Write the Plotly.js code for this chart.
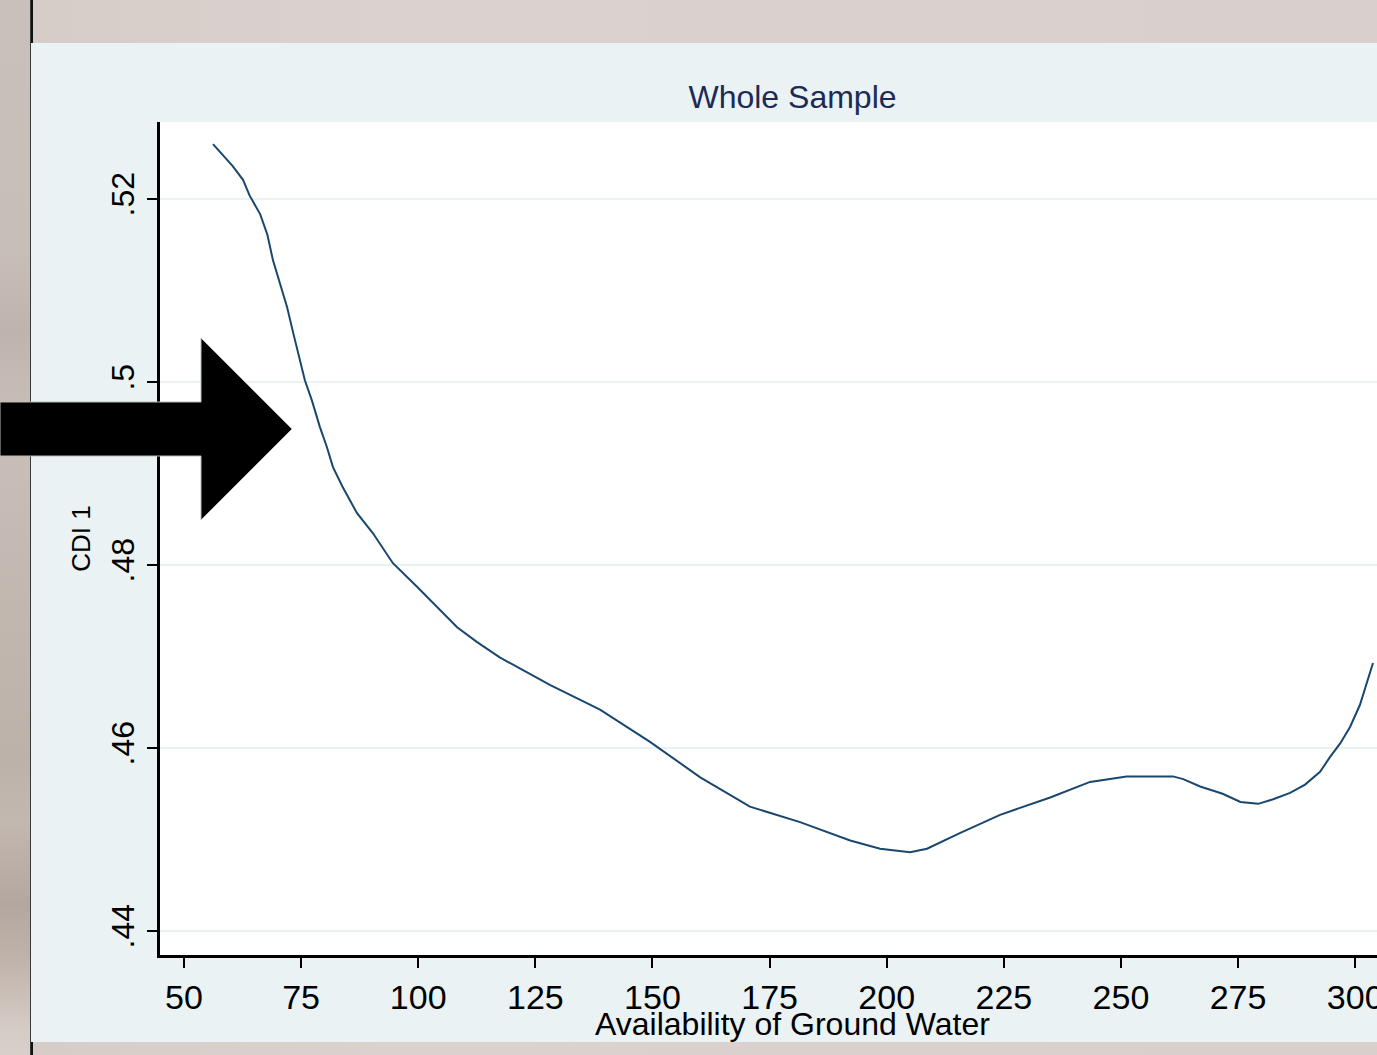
<!DOCTYPE html>
<html>
<head>
<meta charset="utf-8">
<script src="https://cdn.plot.ly/plotly-3.0.1.min.js"></script>
<style>
  html, body { margin:0; padding:0; width:1377px; height:1055px; overflow:hidden; }
  body {
    background: linear-gradient(90deg, #d6ccc7 0px, #dbd2cf 400px, #d9d0cd 1377px);
    position: relative;
  }
  #leftstrip {
    position:absolute; left:0; top:0; width:30px; height:1055px;
    background: linear-gradient(180deg, #cac0bb 0px, #c8beb8 250px, #bfb4ad 330px, #c9bfb9 420px,
      #c4b9b2 560px, #bdb2aa 760px, #c3b8b0 820px, #b3a79f 905px, #bfb3aa 960px, #d6ccc6 1030px, #d8cfca 1055px);
  }
  #edge { position:absolute; left:30px; top:0; width:1px; height:1055px; background:#3a3a3a; }
  #blacktop { position:absolute; left:31px; top:0; width:2px; height:43px; background:#111; }
  #blackbot { position:absolute; left:31px; top:1042px; width:2px; height:13px; background:#111; }
  #chart { position:absolute; left:31px; top:43px; width:1414px; height:999px; }
  #arrow { position:absolute; left:0; top:0; width:400px; height:600px; pointer-events:none; z-index:10; }
</style>
</head>
<body>
<div id="leftstrip"></div>
<div id="edge"></div>
<div id="blacktop"></div>
<div id="blackbot"></div>
<div id="chart"></div>
<svg id="arrow" width="400" height="600" xmlns="http://www.w3.org/2000/svg">
  <polygon points="0,402 201,402 201,338 292,429 201,520 201,456 0,456" fill="#000" stroke="#b8b8b8" stroke-width="1"/>
</svg>
<script>
// Availability of Ground Water (x) and CDI 1 (y)
const groundWater = [56.2, 60.4, 62.6, 64.0, 66.3, 67.8, 69.0, 70.5, 72.0, 73.3, 74.8, 75.8, 77.3, 79.0, 80.5, 81.8, 83.9, 86.9, 90.3, 94.6, 99.8, 104.7, 108.3, 112.5, 117.4, 128.1, 138.8, 149.4, 160.2, 170.8, 181.5, 192.2, 198.6, 205.0, 208.6, 215.6, 224.2, 234.9, 243.4, 251.2, 261.1, 263.3, 266.9, 271.7, 275.5, 279.3, 282.5, 286.1, 289.3, 292.5, 294.6, 296.8, 298.9, 301.0, 303.8];
const cdi1 = [0.5260, 0.5236, 0.5221, 0.5204, 0.5183, 0.5161, 0.5133, 0.5108, 0.5082, 0.5054, 0.5024, 0.5002, 0.4980, 0.4951, 0.4929, 0.4907, 0.4885, 0.4857, 0.4835, 0.4802, 0.4776, 0.4751, 0.4732, 0.4716, 0.4699, 0.4669, 0.4642, 0.4607, 0.4568, 0.4536, 0.4519, 0.4499, 0.4490, 0.4486, 0.4490, 0.4507, 0.4527, 0.4546, 0.4563, 0.4569, 0.4569, 0.4566, 0.4558, 0.4550, 0.4541, 0.4539, 0.4544, 0.4551, 0.4560, 0.4574, 0.4590, 0.4605, 0.4623, 0.4647, 0.4693];

const xTickVals = [50, 75, 100, 125, 150, 175, 200, 225, 250, 275, 300];
const xTickText = ['50', '75', '100', '125', '150', '175', '200', '225', '250', '275', '300'];
const yTickVals = [0.44, 0.46, 0.48, 0.50, 0.52];
const yTickText = ['.44', '.46', '.48', '.5', '.52'];

const chartTitle = 'Whole Sample';
const xTitle = 'Availability of Ground Water';
const yTitle = 'CDI 1';

const FONT = 'Liberation Sans, Arial, sans-serif';

const trace = {
  x: groundWater, y: cdi1, type: 'scatter', mode: 'lines',
  line: { color: '#1a476f', width: 2, shape: 'linear' },
  hoverinfo: 'skip'
};

const layout = {
  width: 1414, height: 999,
  margin: { l: 129, r: 20, t: 79, b: 87, pad: 0 },
  paper_bgcolor: '#eaf2f3',
  plot_bgcolor: '#ffffff',
  showlegend: false,
  title: {
    text: chartTitle, x: 0.5, xref: 'paper', xanchor: 'center',
    y: 1 - 54/999, yref: 'container', yanchor: 'middle',
    font: { family: FONT, size: 32, color: '#1c2b55' }
  },
  annotations: [{
    text: xTitle, xref: 'paper', yref: 'paper', x: 0.5, y: 0,
    xanchor: 'center', yanchor: 'middle', yshift: -69, showarrow: false,
    font: { family: FONT, size: 32, color: '#000' }
  }],
  xaxis: {
    range: [44.88, 314.9],
    tickmode: 'array', tickvals: xTickVals, ticktext: xTickText,
    ticks: 'outside', ticklen: 10, tickwidth: 2, tickcolor: '#000',
    showline: true, linecolor: '#000', linewidth: 3,
    showgrid: false, zeroline: false,
    tickfont: { family: FONT, size: 34, color: '#000' },
    automargin: false
  },
  yaxis: {
    range: [0.43738, 0.52842],
    tickmode: 'array', tickvals: yTickVals, ticktext: yTickText,
    tickangle: -90,
    ticks: 'outside', ticklen: 10, tickwidth: 2, tickcolor: '#000',
    showline: true, linecolor: '#000', linewidth: 3,
    showgrid: true, gridcolor: '#eaf2f3', gridwidth: 2.5,
    zeroline: false,
    tickfont: { family: FONT, size: 32, color: '#000' },
    title: { text: yTitle, standoff: 8, font: { family: FONT, size: 26, color: '#000' } },
    automargin: false
  }
};

Plotly.newPlot('chart', [trace], layout, { staticPlot: true, displayModeBar: false });
</script>
</body>
</html>
